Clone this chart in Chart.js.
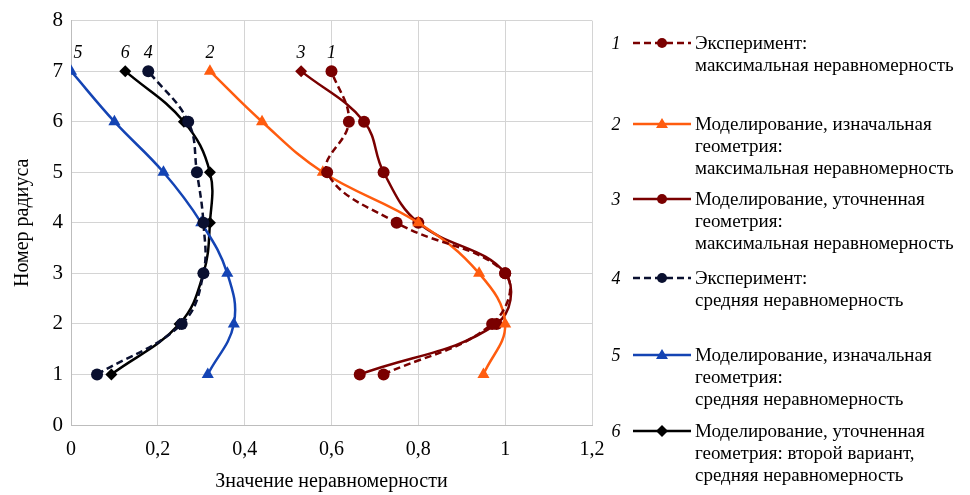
<!DOCTYPE html>
<html>
<head>
<meta charset="utf-8">
<script src="https://cdn.jsdelivr.net/npm/chart.js@4.4.1/dist/chart.umd.min.js"></script>
<style>
  html, body { margin: 0; padding: 0; background: #fff; }
  #wrap { position: relative; width: 970px; height: 495px; overflow: hidden; font-family: "Liberation Serif", "Times New Roman", "DejaVu Serif", serif; }
  #chart { position: absolute; left: 0; top: 0; }
  .item { position: absolute; left: 606px; }
  .num { position: absolute; left: 0; top: 0; width: 20px; text-align: center; font-style: italic; font-size: 18px; line-height: 22px; }
  .sample { position: absolute; left: 27px; top: 1px; }
  .txt { position: absolute; left: 89px; top: 0; font-size: 19px; line-height: 22px; white-space: nowrap; color: #000; }
</style>
</head>
<body>
<div id="wrap">
  <canvas id="chart" width="970" height="495"></canvas>
  <div id="legend"></div>
</div>
<script>
"use strict";

// номер радиуса
const radii = [1, 2, 3, 4, 5, 6, 7];
// значения неравномерности, по радиусам 1..7
const expMax      = [0.72, 0.97, 1.0, 0.75, 0.59, 0.64, 0.60];
const simMaxInit  = [0.95, 1.0, 0.94, 0.80, 0.58, 0.44, 0.32];
const simMaxRef   = [0.665, 0.98, 1.0, 0.80, 0.72, 0.675, 0.53];
const expAvg      = [0.06, 0.255, 0.305, 0.305, 0.29, 0.27, 0.178];
const simAvgInit  = [0.315, 0.375, 0.36, 0.30, 0.213, 0.10, 0.0];
const simAvgRef   = [0.093, 0.25, 0.305, 0.32, 0.32, 0.26, 0.125];

const seriesNums = ["1", "2", "3", "4", "5", "6"];
const legendTexts = [
    ["Эксперимент:", "максимальная неравномерность"],
    ["Моделирование, изначальная", "геометрия:", "максимальная неравномерность"],
    ["Моделирование, уточненная", "геометрия:", "максимальная неравномерность"],
    ["Эксперимент:", "средняя неравномерность"],
    ["Моделирование, изначальная", "геометрия:", "средняя неравномерность"],
    ["Моделирование, уточненная", "геометрия: второй вариант,", "средняя неравномерность"]
];
const xTitle = "Значение неравномерности";
const yTitle = "Номер радиуса";

const SERIF = "'Liberation Serif', 'Times New Roman', 'DejaVu Serif', serif";
const DARKRED = "#7a0000";
const ORANGE = "#ff5c0f";
const BLUE = "#1444b4";
const NAVY = "#0a1030";
const BLACK = "#000000";

const styles = [
    { color: DARKRED, dash: [7, 4], point: "circle", radius: 6 },
    { color: ORANGE, dash: [], point: "triangle", radius: 7 },
    { color: DARKRED, dash: [], point: ["circle", "circle", "circle", "circle", "circle", "circle", "rectRot"], radius: 6 },
    { color: NAVY, dash: [7, 4], point: "circle", radius: 6 },
    { color: BLUE, dash: [], point: "triangle", radius: 7 },
    { color: BLACK, dash: [], point: "rectRot", radius: 6 }
];
const legendTops = [32, 113, 188, 267, 344, 420];
const numOffsets = [0, 0, 0, 0, 7, 0];

function pts(vals) {
    return vals.map(function (v, i) { return { x: v, y: radii[i] }; });
}

const seriesVals = [expMax, simMaxInit, simMaxRef, expAvg, simAvgInit, simAvgRef];
const datasets = seriesVals.map(function (vals, i) {
    const s = styles[i];
    return {
        label: seriesNums[i],
        data: pts(vals),
        borderColor: s.color,
        backgroundColor: s.color,
        borderWidth: 2.5,
        borderDash: s.dash,
        pointStyle: s.point,
        pointRadius: s.radius,
        pointBorderWidth: 0,
        tension: 0.4,
        fill: false
    };
});

function fmt(v) {
    return String(Math.round(v * 10) / 10).replace(".", ",");
}

// подписи номеров серий над верхней точкой
const numberLabels = {
    id: "numberLabels",
    afterDatasetsDraw(chart) {
        const c = chart.ctx;
        c.save();
        c.font = "italic 18px " + SERIF;
        c.fillStyle = "#000";
        c.textAlign = "center";
        c.textBaseline = "alphabetic";
        chart.data.datasets.forEach(function (ds, i) {
            const meta = chart.getDatasetMeta(i);
            const p = meta.data[meta.data.length - 1];
            c.fillText(seriesNums[i], p.x + numOffsets[i], p.y - 13);
        });
        c.restore();
    }
};

new Chart(document.getElementById("chart"), {
    type: "line",
    data: { datasets: datasets },
    plugins: [numberLabels],
    options: {
        responsive: false,
        animation: false,
        layout: { padding: { left: 0, top: 14, right: 378, bottom: 0 } },
        plugins: { legend: { display: false }, tooltip: { enabled: false } },
        scales: {
            x: {
                type: "linear",
                min: 0, max: 1.2,
                afterFit: function (s) { s.height = 70; },
                grid: { color: "#d4d4d4", lineWidth: 1, drawTicks: false },
                border: { color: "#bdbdbd", width: 1 },
                ticks: {
                    stepSize: 0.2, padding: 13, color: "#000",
                    font: { family: SERIF, size: 20 },
                    callback: fmt
                },
                title: {
                    display: true, text: xTitle, color: "#000",
                    font: { family: SERIF, size: 20 },
                    padding: { top: 0, bottom: 1 }
                }
            },
            y: {
                type: "linear",
                min: 0, max: 8,
                afterFit: function (s) { s.width = 71; },
                grid: { color: "#d4d4d4", lineWidth: 1, drawTicks: false },
                border: { color: "#bdbdbd", width: 1 },
                ticks: {
                    stepSize: 1, padding: 8, color: "#000",
                    font: { family: SERIF, size: 21 }
                },
                title: {
                    display: true, text: yTitle, color: "#000",
                    font: { family: SERIF, size: 20 },
                    padding: { top: 11, bottom: 0 }
                }
            }
        }
    }
});

// легенда справа
const legendEl = document.getElementById("legend");
legendTexts.forEach(function (lines, i) {
    const s = styles[i];
    const item = document.createElement("div");
    item.className = "item";
    item.style.top = legendTops[i] + "px";
    const dash = s.dash.length ? ' stroke-dasharray="7 4"' : "";
    const p = Array.isArray(s.point) ? s.point[0] : s.point;
    let marker;
    if (p === "circle") marker = '<circle cx="29" cy="10" r="5" fill="' + s.color + '"/>';
    else if (p === "triangle") marker = '<polygon points="29,4 35,14 23,14" fill="' + s.color + '"/>';
    else marker = '<polygon points="29,4 35,10 29,16 23,10" fill="' + s.color + '"/>';
    item.innerHTML =
        '<div class="num">' + seriesNums[i] + '</div>' +
        '<svg class="sample" width="58" height="20"><line x1="0" y1="10" x2="58" y2="10" stroke="' + s.color +
        '" stroke-width="2.5"' + dash + '/>' + marker + '</svg>' +
        '<div class="txt">' + lines.join("<br>") + '</div>';
    legendEl.appendChild(item);
});
</script>
</body>
</html>
